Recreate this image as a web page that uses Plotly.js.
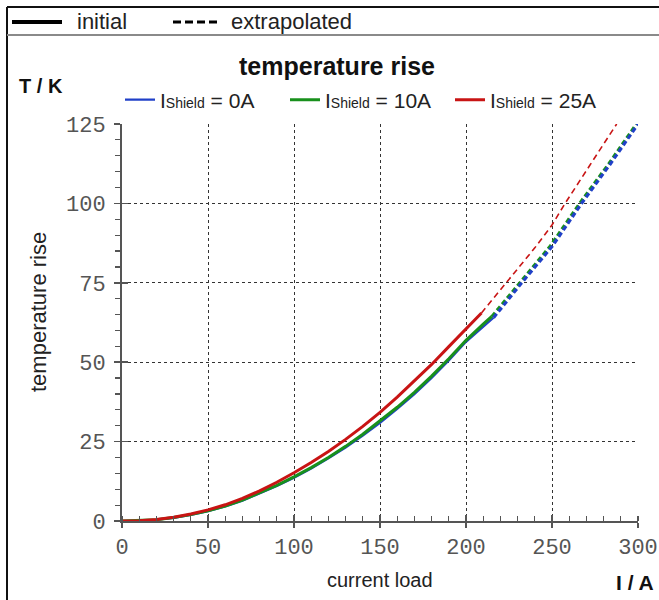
<!DOCTYPE html>
<html>
<head>
<meta charset="utf-8">
<script src="https://cdn.plot.ly/plotly-3.0.1.min.js"></script>
<style>
  html, body { margin: 0; padding: 0; background: #fff; }
  #chart { width: 659px; height: 600px; }
</style>
</head>
<body>
<div id="chart"></div>
<script>
// ---- data ----
const seriesNames = ["I<span style='font-size:14px'>Shield</span> = 0A",
                     "I<span style='font-size:14px'>Shield</span> = 10A",
                     "I<span style='font-size:14px'>Shield</span> = 25A"];
const seriesColors = ["#2040c8", "#18901c", "#c81414"];

// measured ("initial") curves
const blueInitX  = [0,10,20,30,40,50,60,70,80,90,100,110,120,130,140,150,160,170,180,190,200,210,216];
const blueInitY  = [0,0.1,0.4,1.0,1.9,3.1,4.6,6.4,8.6,11.0,13.6,16.5,19.7,23.1,26.9,30.9,35.3,39.9,45.0,50.5,56.4,61.3,64.0];
const greenInitX = [0,10,20,30,40,50,60,70,80,90,100,110,120,130,140,150,160,170,180,190,200,210,215];
const greenInitY = [0,0.1,0.4,1.1,2.0,3.2,4.7,6.6,8.8,11.2,13.9,16.8,20.0,23.5,27.3,31.4,35.8,40.5,45.6,51.1,56.9,62.0,64.4];
const redInitX   = [0,10,20,30,40,50,60,70,80,90,100,110,120,130,140,150,160,170,180,190,200,209];
const redInitY   = [0,0.1,0.5,1.2,2.2,3.5,5.1,7.1,9.5,12.2,15.2,18.4,21.9,25.7,29.8,34.2,39.0,44.0,49.3,54.9,60.6,65.5];

// extrapolated curves
const blueExtX  = [216,232.4,250,267.2,284,300];
const blueExtY  = [64.0,75,86.4,100,112.5,125];
const greenExtX = [215,231.5,249,266,283,299];
const greenExtY = [64.4,75,86.6,100,112.5,125];
const redExtX   = [209,223.6,240,250,257.6,272,287.6];
const redExtY   = [65.5,75,86,93.2,100,112,125];

// axis ticks
const xTicks = [0,50,100,150,200,250,300];
const yTicks = [0,25,50,75,100,125];

// ---- geometry helpers (pixel -> paper) ----
const L = 122, R = 21, T = 124, B = 79, W = 659, H = 600;
const pw = W - L - R, ph = H - T - B;
const px = v => (v - L) / pw;
const py = v => (H - B - v) / ph;

const sans = "Liberation Sans, Arial, sans-serif";
const mono = "Liberation Mono, Courier New, monospace";

const traces = [
  {x: blueInitX, y: blueInitY, mode: 'lines', name: seriesNames[0],
   line: {color: seriesColors[0], width: 2.2}, legendrank: 1},
  {x: greenInitX, y: greenInitY, mode: 'lines', name: seriesNames[1],
   line: {color: seriesColors[1], width: 3}, legendrank: 2},
  {x: redInitX, y: redInitY, mode: 'lines', name: seriesNames[2],
   line: {color: seriesColors[2], width: 3}, legendrank: 3},
  {x: greenExtX, y: greenExtY, mode: 'lines', showlegend: false,
   line: {color: seriesColors[1], width: 3, dash: '5px,3px'}},
  {x: blueExtX, y: blueExtY, mode: 'lines', showlegend: false,
   line: {color: seriesColors[0], width: 3.2, dash: '5px,3px'}},
  {x: redExtX, y: redExtY, mode: 'lines', showlegend: false,
   line: {color: seriesColors[2], width: 1.6, dash: '6px,4px'}},
  {x: [null], y: [null], xaxis: 'x2', yaxis: 'y2', mode: 'lines', showlegend: false, hoverinfo: 'skip'}
];

const layout = {
  width: W, height: H,
  margin: {l: L, r: R, t: T, b: B, pad: 0},
  paper_bgcolor: '#fff', plot_bgcolor: '#fff',
  font: {family: sans, color: '#222'},
  showlegend: true,
  title: {text: '<b>temperature rise</b>', x: 337 / W, xanchor: 'center',
          y: 1 - 66 / H, yanchor: 'middle', yref: 'container', xref: 'container',
          font: {family: sans, size: 25, color: '#111'}},
  legend: {orientation: 'h', x: px(120), xanchor: 'left', y: py(100), yanchor: 'middle',
           entrywidth: 120, entrywidthmode: 'pixels',
           font: {family: sans, size: 21, color: '#222'}, bgcolor: 'rgba(0,0,0,0)',
           borderwidth: 0, tracegroupgap: 0, traceorder: 'normal'},
  xaxis: {range: [0, 300], tickvals: xTicks, ticktext: xTicks.map(String),
          showgrid: true, gridcolor: '#333', griddash: 'dot', gridwidth: 1,
          zeroline: false, showline: true, linecolor: '#555', linewidth: 2,
          ticks: 'outside', ticklen: 5, tickwidth: 1.5, tickcolor: '#555',
          ticklabelstandoff: 0,
          minor: {dtick: 10, ticks: 'inside', ticklen: 5, tickwidth: 1.2, tickcolor: '#555', showgrid: false},
          tickfont: {family: mono, size: 22, color: '#555'}, fixedrange: true},
  yaxis: {range: [0, 125], tickvals: yTicks, ticktext: yTicks.map(String),
          showgrid: true, gridcolor: '#333', griddash: 'dot', gridwidth: 1,
          zeroline: false, showline: true, linecolor: '#555', linewidth: 2,
          ticks: 'outside', ticklen: 6, tickwidth: 1.5, tickcolor: '#555',
          ticklabelstandoff: 4,
          minor: {dtick: 5, ticks: 'outside', ticklen: 5, tickwidth: 1.2, tickcolor: '#555', showgrid: false},
          tickfont: {family: mono, size: 22, color: '#555'}, fixedrange: true},
  xaxis2: {overlaying: 'x', anchor: 'y2', range: [0, 300], tickvals: xTicks, showticklabels: false,
           ticks: 'inside', ticklen: 6, tickwidth: 1.5, tickcolor: '#555',
           showgrid: false, zeroline: false, showline: false, fixedrange: true},
  yaxis2: {overlaying: 'y', anchor: 'x2', range: [0, 125], tickvals: yTicks, showticklabels: false,
           ticks: 'inside', ticklen: 6, tickwidth: 1.5, tickcolor: '#555',
           showgrid: false, zeroline: false, showline: false, fixedrange: true},
  shapes: [
    // outer frame
    {type: 'line', xref: 'paper', yref: 'paper', x0: px(7), x1: px(659), y0: py(7), y1: py(7),
     line: {color: '#111', width: 2}},
    {type: 'line', xref: 'paper', yref: 'paper', x0: px(7), x1: px(7), y0: py(7), y1: py(600),
     line: {color: '#111', width: 2}},
    {type: 'line', xref: 'paper', yref: 'paper', x0: px(7), x1: px(659), y0: py(35), y1: py(35),
     line: {color: '#8a8a8a', width: 2}},
    // line-style key
    {type: 'line', xref: 'paper', yref: 'paper', x0: px(12), x1: px(62), y0: py(22), y1: py(22),
     line: {color: '#000', width: 4}},
    {type: 'line', xref: 'paper', yref: 'paper', x0: px(173), x1: px(219), y0: py(22), y1: py(22),
     line: {color: '#000', width: 3, dash: '8px,4px'}}
  ],
  annotations: [
    {text: 'initial', xref: 'paper', yref: 'paper', x: px(75), y: py(22), xanchor: 'left', yanchor: 'middle',
     showarrow: false, font: {family: sans, size: 22, color: '#222'}},
    {text: 'extrapolated', xref: 'paper', yref: 'paper', x: px(229), y: py(22), xanchor: 'left', yanchor: 'middle',
     showarrow: false, font: {family: sans, size: 22, color: '#222'}},
    {text: '<b>T / K</b>', xref: 'paper', yref: 'paper', x: px(17), y: py(86), xanchor: 'left', yanchor: 'middle',
     showarrow: false, font: {family: sans, size: 20, color: '#111'}},
    {text: '<b>I / A</b>', xref: 'paper', yref: 'paper', x: px(656), y: py(582), xanchor: 'right', yanchor: 'middle',
     showarrow: false, font: {family: sans, size: 21, color: '#111'}},
    {text: 'temperature rise', xref: 'paper', yref: 'paper', x: px(38), y: py(312), xanchor: 'center', yanchor: 'middle',
     textangle: -90, showarrow: false, font: {family: sans, size: 22, color: '#222'}},
    {text: 'current load', xref: 'paper', yref: 'paper', x: px(380), y: py(580), xanchor: 'center', yanchor: 'middle',
     showarrow: false, font: {family: sans, size: 20, color: '#222'}}
  ]
};

Plotly.newPlot('chart', traces, layout, {displayModeBar: false, staticPlot: true});
</script>
</body>
</html>
